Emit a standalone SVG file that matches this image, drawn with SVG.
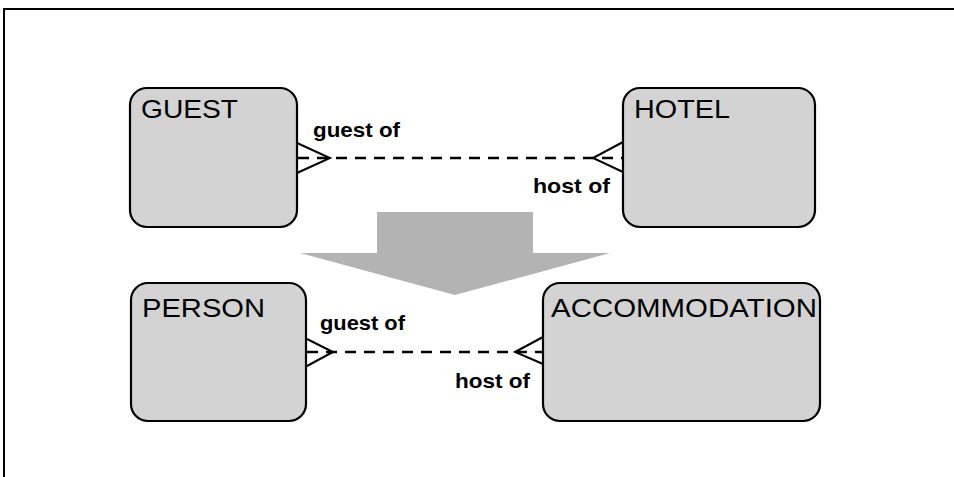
<svg xmlns="http://www.w3.org/2000/svg" width="954" height="477" viewBox="0 0 954 477">
<style>
.box{fill:#d3d3d3;stroke:#000;stroke-width:2.2}
.name{font-family:"Liberation Sans",Arial,sans-serif;font-size:26px;fill:#000}
.lbl{font-family:"Liberation Sans",Arial,sans-serif;font-size:21px;font-weight:bold;fill:#000}
.dash{stroke:#000;stroke-width:2.5;stroke-dasharray:11 8;fill:none}
.crow{stroke:#000;stroke-width:2;fill:none}
</style>
<rect width="954" height="477" fill="#fff"/>
<path d="M4,477 V9 H954" fill="none" stroke="#000" stroke-width="2"/>
<polygon points="377,212 533,212 533,253 610,253 455,295 300,253 377,253" fill="#b3b3b3"/>
<g id="guest"><rect class="box" x="130" y="88" width="167" height="139" rx="17"/><text class="name" x="141" y="118" textLength="97" lengthAdjust="spacingAndGlyphs">GUEST</text></g>
<g id="hotel"><rect class="box" x="623" y="88" width="192" height="139" rx="17"/><text class="name" x="634" y="118" textLength="96" lengthAdjust="spacingAndGlyphs">HOTEL</text></g>
<g id="person"><rect class="box" x="131" y="283" width="175" height="138" rx="17"/><text class="name" x="142" y="317" textLength="123" lengthAdjust="spacingAndGlyphs">PERSON</text></g>
<g id="accommodation"><rect class="box" x="543" y="283" width="277" height="138" rx="17"/><text class="name" x="551" y="317" textLength="266" lengthAdjust="spacingAndGlyphs">ACCOMMODATION</text></g>
<g id="connectors">
<line class="dash" x1="298" y1="158" x2="622" y2="158"/>
<polyline class="crow" points="297,143 330,158 297,173"/>
<polyline class="crow" points="623,142 593,158 623,172"/>
<text class="lbl" x="313" y="137" textLength="87" lengthAdjust="spacingAndGlyphs">guest of</text>
<text class="lbl" x="533" y="193" textLength="77" lengthAdjust="spacingAndGlyphs">host of</text>
<line class="dash" x1="307" y1="352" x2="542" y2="352"/>
<polyline class="crow" points="307,339 333,352 307,366"/>
<polyline class="crow" points="543,337 515,352 543,364"/>
<text class="lbl" x="320" y="330" textLength="85" lengthAdjust="spacingAndGlyphs">guest of</text>
<text class="lbl" x="455" y="388" textLength="75" lengthAdjust="spacingAndGlyphs">host of</text>
</g>
</svg>
